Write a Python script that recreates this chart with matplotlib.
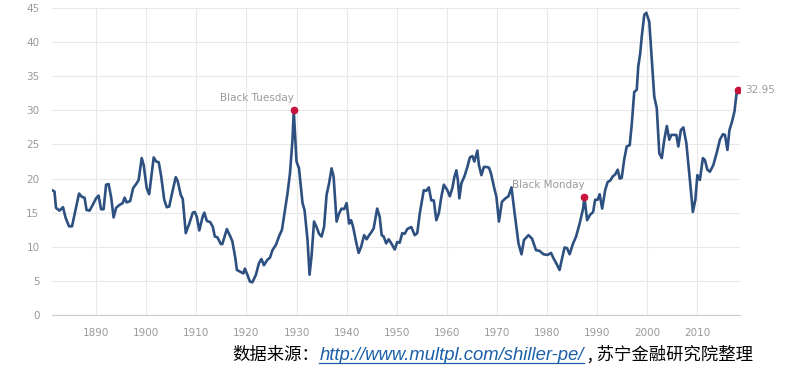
import matplotlib
matplotlib.use("Agg")
import matplotlib.pyplot as plt
from matplotlib.lines import Line2D

years = [
    1881.2, 1881.7, 1882.0, 1882.7, 1883.4, 1883.9, 1884.6, 1885.2, 1885.9, 1886.6,
    1887.2, 1887.7, 1888.1, 1888.7, 1889.3, 1890.0, 1890.5, 1891.0, 1891.5, 1892.0,
    1892.5, 1893.0, 1893.5, 1894.0, 1894.6, 1895.3, 1895.7, 1896.1, 1896.8, 1897.4,
    1898.1, 1898.5, 1899.1, 1899.5, 1900.1, 1900.6, 1901.5, 1902.0, 1902.5, 1903.0,
    1903.6, 1904.1, 1904.6, 1905.3, 1905.9, 1906.3, 1906.9, 1907.3, 1907.9, 1908.6,
    1909.3, 1909.7, 1910.1, 1910.6, 1911.3, 1911.6, 1912.1, 1912.8, 1913.3, 1913.7,
    1914.2, 1914.9, 1915.2, 1915.7, 1916.1, 1916.8, 1917.2, 1917.8, 1918.1, 1918.9,
    1919.4, 1919.7, 1920.2, 1920.7, 1921.2, 1921.9, 1922.5, 1923.0, 1923.5, 1924.2,
    1924.7, 1925.2, 1925.9, 1926.5, 1927.1, 1927.5, 1928.2, 1928.7, 1929.2, 1929.45,
    1930.0, 1930.5, 1931.2, 1931.6, 1932.2, 1932.6, 1933.0, 1933.5, 1934.0, 1934.5,
    1935.0, 1935.5, 1936.0, 1936.5, 1937.0, 1937.4, 1938.0, 1938.5, 1939.0, 1939.5,
    1940.0, 1940.5, 1940.9, 1941.3, 1941.9, 1942.4, 1942.9, 1943.5, 1944.0, 1944.5,
    1944.9, 1945.4, 1945.8, 1946.1, 1946.6, 1947.0, 1947.4, 1947.9, 1948.4, 1949.0,
    1949.6, 1950.1, 1950.6, 1951.1, 1951.6, 1952.1, 1952.9, 1953.6, 1954.1, 1954.6,
    1955.4, 1955.9, 1956.4, 1956.9, 1957.4, 1957.9, 1958.4, 1958.9, 1959.4, 1960.1,
    1960.6, 1961.1, 1961.5, 1961.9, 1962.2, 1962.5, 1962.9, 1963.5, 1964.1, 1964.6,
    1965.1, 1965.5, 1966.1, 1966.4, 1966.9, 1967.4, 1967.9, 1968.4, 1968.8, 1969.4,
    1969.9, 1970.4, 1971.0, 1971.7, 1972.3, 1972.9, 1973.5, 1974.3, 1974.9, 1975.4,
    1976.3, 1977.0, 1977.8, 1978.5, 1979.3, 1980.1, 1980.8, 1981.3, 1981.9, 1982.5,
    1983.0, 1983.5, 1984.0, 1984.5, 1985.2, 1985.8, 1986.5, 1987.2, 1987.45, 1988.0,
    1988.6, 1989.2, 1989.6, 1990.1, 1990.5, 1991.0, 1991.6, 1992.1, 1992.6, 1993.1,
    1993.6, 1994.1, 1994.5, 1994.9, 1995.4, 1995.9, 1996.5, 1996.9, 1997.4, 1997.9,
    1998.2, 1998.6, 1998.9, 1999.4, 1999.8, 2000.4, 2000.9, 2001.4, 2001.9, 2002.4,
    2002.9, 2003.4, 2003.9, 2004.4, 2004.8, 2005.2, 2005.8, 2006.2, 2006.7, 2007.2,
    2007.8, 2008.2, 2008.7, 2009.1, 2009.6, 2010.0, 2010.5, 2011.1, 2011.5, 2012.0,
    2012.5, 2013.2, 2013.9, 2014.5, 2015.1, 2015.5, 2016.0, 2016.4, 2016.9, 2017.4,
    2017.9, 2018.1,
]
cape = [
    18.3, 18.1, 15.7, 15.3, 15.8, 14.3, 13.0, 13.0, 15.4, 17.8,
    17.3, 17.2, 15.4, 15.3, 16.1, 17.1, 17.5, 15.5, 15.5, 19.1,
    19.2, 17.3, 14.3, 15.7, 16.1, 16.4, 17.2, 16.5, 16.7, 18.6,
    19.3, 19.8, 23.0, 22.0, 18.6, 17.7, 23.1, 22.5, 22.4, 20.3,
    16.9, 15.8, 15.9, 18.3, 20.2, 19.6, 17.6, 17.0, 12.0, 13.4,
    15.0, 15.1, 14.4, 12.4, 14.5, 15.0, 13.8, 13.6, 12.9, 11.5,
    11.4, 10.4, 10.4, 11.6, 12.6, 11.5, 10.8, 8.3, 6.6, 6.3,
    6.1, 6.8, 5.9, 4.9, 4.8, 5.9, 7.6, 8.2, 7.3, 8.1,
    8.4, 9.5, 10.3, 11.5, 12.5, 14.4, 17.8, 20.8, 25.7, 30.0,
    22.5, 21.5, 16.4, 15.4, 11.0, 5.9, 8.6, 13.7, 12.9, 11.9,
    11.5, 12.9, 17.6, 19.3, 21.5, 20.3, 13.7, 14.9, 15.6, 15.5,
    16.4, 13.4, 13.9, 12.9, 10.7, 9.1, 10.0, 11.7, 11.1, 11.7,
    12.1, 12.7, 14.4, 15.6, 14.4, 11.7, 11.5, 10.5, 11.1, 10.4,
    9.6, 10.7, 10.6, 12.0, 11.9, 12.6, 12.9, 11.7, 12.0, 14.9,
    18.3, 18.2, 18.7, 16.8, 16.8, 13.9, 14.9, 17.3, 19.1, 18.3,
    17.4, 18.6, 20.2, 21.2, 19.8, 17.1, 19.3, 20.3, 21.7, 23.1,
    23.3, 22.5, 24.1, 22.0, 20.5, 21.7, 21.7, 21.6, 20.8, 18.8,
    17.3, 13.7, 16.6, 17.1, 17.4, 18.7, 15.1, 10.5, 8.9, 11.0,
    11.7, 11.2, 9.5, 9.4, 8.9, 8.8, 9.1, 8.3, 7.5, 6.6,
    8.3, 9.9, 9.8, 8.9, 10.5, 11.5, 13.4, 15.6, 17.3, 13.9,
    14.7, 15.1, 16.9, 16.9, 17.7, 15.6, 18.3, 19.5, 19.7, 20.3,
    20.6, 21.3, 20.0, 20.1, 22.8, 24.7, 24.9, 27.9, 32.7, 33.0,
    36.4, 38.4, 40.8, 44.0, 44.3, 43.0, 37.4, 32.0, 30.3, 23.7,
    23.0, 25.7, 27.7, 25.7, 26.4, 26.4, 26.4, 24.7, 27.1, 27.5,
    25.2, 22.2, 18.3, 15.1, 16.9, 20.5, 19.8, 23.0, 22.7, 21.3,
    21.0, 22.0, 23.9, 25.7, 26.5, 26.4, 24.2, 27.1, 28.3, 29.8,
    33.0, 32.95,
]

events = ["Black Tuesday", "Black Monday"]
event_years = [1929.45, 1987.45]
event_values = [30.0, 17.3]

x_ticks = list(range(1890, 2011, 10))
y_ticks = list(range(0, 46, 5))

line_color = "#2d5080"
dot_color = "#c8143c"
label_gray = "#9a9a9a"

fig = plt.figure(figsize=(7.96, 3.72), dpi=100)
ax = fig.add_axes([0.0653, 0.1532, 0.8643, 0.8253])

ax.plot(years, cape, color=line_color, lw=1.9, solid_joinstyle="round", zorder=3)
ax.plot(event_years, event_values, "o", color=dot_color, ms=4.5, zorder=4)
ax.plot(years[-1], cape[-1], "o", color=dot_color, ms=4.5, zorder=4)

for name, ex, ey in zip(events, event_years, event_values):
    ax.annotate(name, (ex, ey), xytext=(0, 5), textcoords="offset points",
                ha="right", va="bottom", color=label_gray, fontsize=7.5)
ax.annotate("{:.2f}".format(cape[-1]), (years[-1], cape[-1]), xytext=(5, 0),
            textcoords="offset points", ha="left", va="center",
            color=label_gray, fontsize=7.5, annotation_clip=False)

ax.set_xlim(1881.2, 2018.5)
ax.set_ylim(0, 45)
ax.set_xticks(x_ticks)
ax.set_yticks(y_ticks)
ax.grid(True, color="#e8e8e8", lw=0.8)
ax.set_axisbelow(True)
for side in ["top", "right", "left"]:
    ax.spines[side].set_visible(False)
ax.spines["bottom"].set_color("#cccccc")
ax.spines["bottom"].set_linewidth(0.8)
ax.tick_params(length=0, labelsize=7.5, labelcolor=label_gray)
ax.tick_params(axis="x", pad=9)
ax.tick_params(axis="y", pad=9)

# source line under the chart, url in blue and underlined
cjk_font = dict(family=["Noto Sans CJK SC", "DejaVu Sans"], fontsize=12.5)
url_font = dict(family=["Liberation Sans", "DejaVu Sans"], style="italic",
                fontsize=13.3)
renderer = fig.canvas.get_renderer()
x0, yb = 0.292, 0.032
pieces = [("数据来源：", "black", cjk_font),
          ("http://www.multpl.com/shiller-pe/", "#1a5fa8", url_font),
          (" , 苏宁金融研究院整理", "black", cjk_font)]
for txt, col, fnt in pieces:
    t = fig.text(x0, yb, txt, color=col, va="baseline", ha="left", **fnt)
    bb = t.get_window_extent(renderer).transformed(fig.transFigure.inverted())
    if col != "black":
        fig.add_artist(Line2D([bb.x0, bb.x1], [yb - 0.008, yb - 0.008],
                              color=col, lw=0.9, transform=fig.transFigure))
    x0 = bb.x1

fig.savefig("out.png", dpi=100)
